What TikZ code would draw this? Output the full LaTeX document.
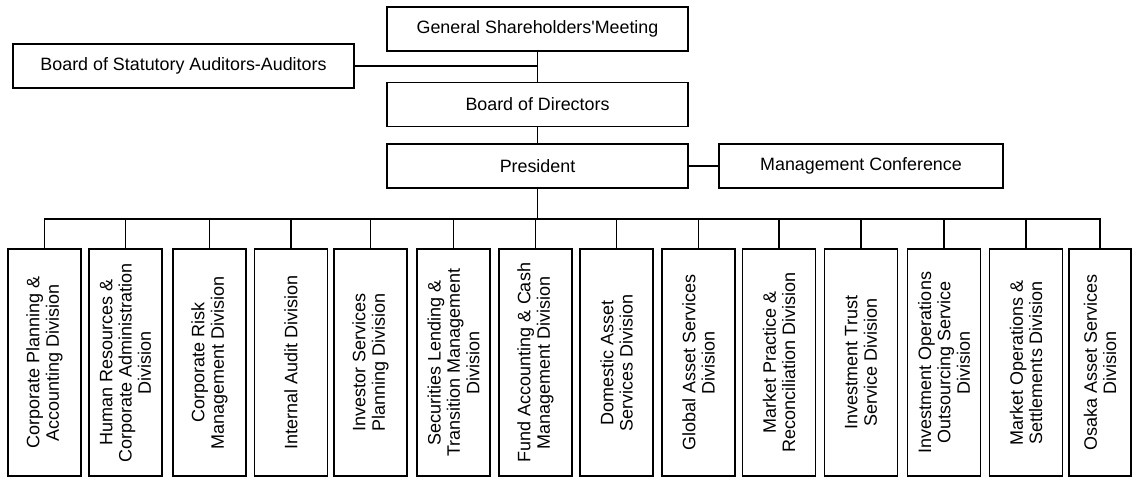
\documentclass[tikz,border=0pt]{standalone}
\usepackage{fontspec}
\setmainfont{Liberation Sans}

\tikzset{every picture/.style={line width=1.1pt}}
\tikzset{
  topbox/.style={draw, minimum height=33pt, inner sep=0.75pt, font=\fontsize{13.4}{15}\selectfont},
  divbox/.style={draw, rotate=90, minimum width=170.25pt, minimum height=54.75pt, inner sep=0.75pt, align=center, font=\fontsize{13.5}{14.5}\selectfont}
}

\begin{document}
\begin{tikzpicture}[x=0.75pt,y=0.75pt,yscale=-1,xscale=1]
%set diagram left start at 0, and has height of 483
\useasboundingbox (0,0) rectangle (1133,483);

%Shape: Rectangle [id:gsm]
\node[topbox, minimum width=225.75pt] (gsm) at (537.5,29) {General Shareholders\textquotesingle Meeting};
%Shape: Rectangle [id:bsa]
\node[topbox, minimum width=255.75pt] (bsa) at (183.5,66) {Board of Statutory Auditors-Auditors};
%Shape: Rectangle [id:bod]
\node[topbox, minimum width=225.75pt] (bod) at (537.5,104.5) {Board of Directors};
%Shape: Rectangle [id:pres]
\node[topbox, minimum width=225.75pt] (pres) at (537.5,166) {President};
%Shape: Rectangle [id:mc]
\node[topbox, minimum width=213pt] (mc) at (861,166) {Management Conference};

%Straight Lines [id:top]
\draw (gsm) -- (bod);
\draw (bsa.east) -- (bsa.east -| gsm.south);
\draw (bod) -- (pres);
\draw (pres) -- (mc);

%Straight Lines [id:bus]
\coordinate (bus) at (537.5,219);
\draw (pres.south) -- (bus);

% Division Nodes
\node[divbox] (d1) at (44.5,362.5) {Corporate Planning \&\\Accounting Division};
\node[divbox] (d2) at (125.5,362.5) {Human Resources \&\\Corporate Administration\\Division};
\node[divbox] (d3) at (209.5,362.5) {Corporate Risk\\Management Division};
\node[divbox] (d4) at (291,362.5) {Internal Audit Division};
\node[divbox] (d5) at (370.5,362.5) {Investor Services\\Planning Division};
\node[divbox] (d6) at (453.5,362.5) {Securities Lending \&\\Transition Management\\Division};
\node[divbox] (d7) at (535.5,362.5) {Fund Accounting \& Cash\\Management Division};
\node[divbox] (d8) at (616.5,362.5) {Domestic Asset\\Services Division};
\node[divbox] (d9) at (698.5,362.5) {Global Asset Services\\Division};
\node[divbox] (d10) at (779,362.5) {Market Practice \&\\Reconciliation Division};
\node[divbox] (d11) at (861,362.5) {Investment Trust\\Service Division};
\node[divbox] (d12) at (944,362.5) {Investment Operations\\Outsourcing Service\\Division};
\node[divbox] (d13) at (1026,362.5) {Market Operations \&\\Settlements Division};
\node[divbox, minimum height=46.5pt] (d14) at (1100,362.5) {Osaka Asset Services\\Division};

%Straight Lines [id:drops]
\draw (d1.east) |- (bus);
\draw (d2.east) |- (bus);
\draw (d3.east) |- (bus);
\draw (d4.east) |- (bus);
\draw (d5.east) |- (bus);
\draw (d6.east) |- (bus);
\draw (d7.east) |- (bus);
\draw (d8.east) |- (bus);
\draw (d9.east) |- (bus);
\draw (d10.east) |- (bus);
\draw (d11.east) |- (bus);
\draw (d12.east) |- (bus);
\draw (d13.east) |- (bus);
\draw (d14.east) |- (bus);

\end{tikzpicture}
\end{document}
